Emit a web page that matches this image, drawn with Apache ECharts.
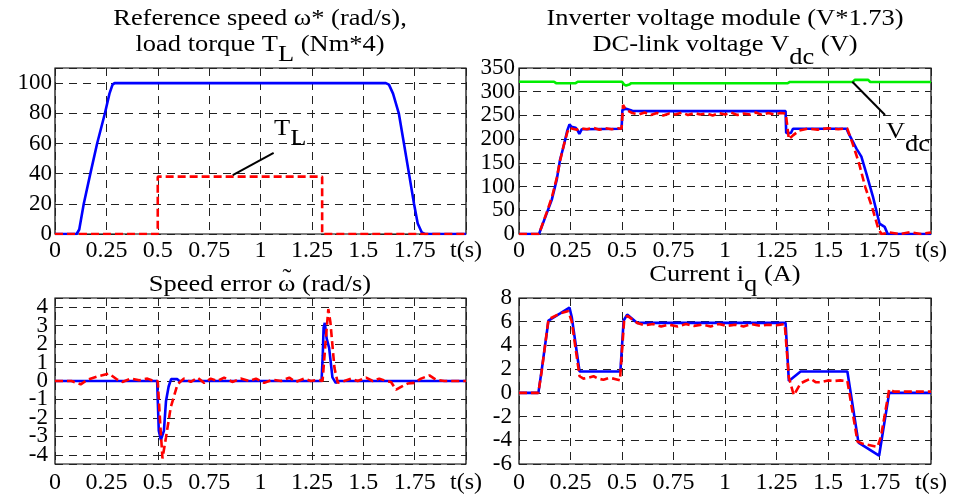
<!DOCTYPE html>
<html>
<head>
<meta charset="utf-8">
<script src="https://cdn.jsdelivr.net/npm/echarts@6/dist/echarts.min.js"></script>
<style>
html, body { margin: 0; padding: 0; background: #fff; }
#chart { width: 963px; height: 498px; }
</style>
</head>
<body>
<div id="chart"></div>
<script>
var FONT = 'Liberation Serif';
var SX = 1.15; // the original lettering is a bit wider than Times

// x ticks (s)
var timeTicks = [0, 0.25, 0.5, 0.75, 1, 1.25, 1.5, 1.75, 2];

// --- top left: reference speed and load torque
var refT = [0, 0.105, 0.118, 0.14, 0.172, 0.205, 0.243, 0.265, 0.28, 0.29, 1.61, 1.625, 1.645, 1.673, 1.698, 1.725, 1.747, 1.765, 1.785, 1.8, 2];
var refV = [0, 0, 3, 20, 40, 60, 80, 93, 99, 100, 100, 99, 93, 80, 60, 38, 20, 7, 1, 0, 0];
var loadT = [0, 0.5, 0.5, 1.3, 1.3, 2];
var loadV = [0, 0, 38, 38, 0, 0];
var tlPointer = [[0.865, 39], [1.064, 53.7]];

// --- top right: inverter voltage module and dc-link voltage
var vdcT = [0, 0.17, 0.18, 0.275, 0.285, 0.5, 0.51, 0.52, 0.535, 0.545, 1.305, 1.315, 1.62, 1.63, 1.695, 1.705, 2];
var vdcV = [321, 321, 318, 318, 321, 321, 315, 313, 315, 318, 318, 320.5, 320.5, 325, 325, 320.5, 320.5];
var vmodT = [0, 0.097, 0.134, 0.159, 0.183, 0.199, 0.216, 0.235, 0.245, 0.255, 0.275, 0.285, 0.293, 0.305, 0.498, 0.502, 0.52, 0.55, 0.6, 1.294,
  1.297, 1.32, 1.33, 1.59, 1.6, 1.638, 1.662, 1.686, 1.718, 1.75, 1.775, 1.79, 2];
var vmodV = [0, 0, 43, 72, 114, 156, 184, 219, 231, 226, 224, 218, 211, 221, 222, 262, 264, 260, 259, 259,
  213, 213, 222, 222, 212, 180, 163, 128, 79, 22, 15, 0, 0];
var vestT = [0, 0.097, 0.134, 0.16, 0.183, 0.2, 0.216, 0.235, 0.245, 0.26, 0.28, 0.3, 0.33, 0.36, 0.39, 0.42, 0.45, 0.48, 0.498, 0.505,
  0.52, 0.55, 0.58, 0.61, 0.64, 0.67, 0.7, 0.73, 0.76, 0.79, 0.82, 0.85, 0.88, 0.91, 0.94, 0.97, 1.0, 1.03, 1.06, 1.09,
  1.12, 1.15, 1.18, 1.21, 1.24, 1.27, 1.295, 1.31, 1.33, 1.36, 1.4, 1.45, 1.5, 1.55, 1.593, 1.62, 1.65, 1.68, 1.715, 1.745,
  1.76, 1.8, 1.85, 1.9, 1.95, 2];
var vestV = [0, 0, 45, 78, 118, 155, 185, 215, 224, 222, 220, 223, 221, 224, 220, 223, 221, 223, 222, 272,
  262, 255, 252, 256, 251, 255, 250, 254, 252, 256, 251, 255, 252, 254, 250, 255, 252, 256, 251, 254,
  252, 256, 251, 255, 252, 255, 254, 200, 208, 218, 222, 220, 223, 221, 223, 190, 150, 100, 55, 10,
  0, 3, 0, 4, 0, 3];
var vdcPointer = [[1.618, 321], [1.777, 251]];

// --- bottom left: speed error
var errBlueT = [0, 0.497, 0.505, 0.515, 0.53, 0.54, 0.553, 0.565, 0.575, 0.595, 0.605, 1.297, 1.303, 1.307, 1.313, 1.322, 1.334, 1.35, 1.366, 1.38, 2];
var errBlueV = [0, 0, -2.7, -3.2, -2.7, -1.1, -0.3, 0.1, 0.1, 0.1, 0, 0, 1.4, 2.9, 3.15, 2.3, 1.8, 0.2, -0.1, 0, 0];
var errRedT = [0, 0.08, 0.125, 0.158, 0.206, 0.263, 0.304, 0.328, 0.369, 0.41, 0.45, 0.482, 0.5, 0.512, 0.523, 0.54, 0.563, 0.596, 0.628, 0.661,
  0.693, 0.726, 0.758, 0.79, 0.823, 0.863, 0.904, 0.945, 0.978, 1.018, 1.059, 1.1, 1.14, 1.172, 1.213, 1.245, 1.278, 1.302, 1.318, 1.33,
  1.34, 1.36, 1.376, 1.408, 1.44, 1.473, 1.514, 1.546, 1.578, 1.611, 1.635, 1.66, 1.684, 1.716, 1.749, 1.781, 1.822, 1.854, 1.895, 2];
var errRedV = [0, 0, -0.18, 0.07, 0.25, 0.4, 0.07, -0.05, 0.13, 0.04, 0.13, 0, 0, -2.3, -4.2, -3.06, -1.44, -0.18, 0.13, -0.05,
  0.18, -0.1, 0.13, 0, 0.18, -0.05, 0.13, 0, 0.13, -0.1, 0.07, 0, 0.18, -0.05, 0.13, 0, 0.07, 0, 2.3, 3.9,
  3.2, 0.7, -0.1, 0, 0.13, 0, 0.18, 0, 0.13, 0, -0.05, -0.47, -0.32, -0.14, -0.1, 0.13, 0.3, 0.07, 0, 0];

// --- bottom right: current iq
var iqBlueT = [0, 0.094, 0.11, 0.143, 0.2, 0.245, 0.256, 0.294, 0.492, 0.508, 0.525, 0.574, 1.294, 1.31, 1.367, 1.594, 1.648, 1.748, 1.797, 2];
var iqBlueV = [0, 0, 1.9, 6.1, 6.7, 7.2, 6.4, 1.8, 1.8, 6.1, 6.6, 5.9, 5.9, 1.0, 1.8, 1.8, -4.2, -5.3, 0, 0];
var iqRedT = [0, 0.094, 0.11, 0.143, 0.2, 0.24, 0.256, 0.294, 0.313, 0.34, 0.362, 0.385, 0.41, 0.435, 0.46, 0.49, 0.51, 0.525, 0.574, 0.61,
  0.65, 0.69, 0.73, 0.77, 0.81, 0.85, 0.89, 0.93, 0.97, 1.01, 1.05, 1.09, 1.13, 1.17, 1.21, 1.25, 1.29, 1.31, 1.334, 1.367,
  1.39, 1.415, 1.44, 1.464, 1.5, 1.53, 1.56, 1.594, 1.643, 1.67, 1.74, 1.757, 1.797, 1.82, 2];
var iqRedV = [0, 0, 1.8, 6.2, 6.7, 6.9, 6.0, 1.4, 1.2, 1.3, 1.4, 1.2, 1.1, 1.25, 1.2, 1.05, 6.0, 6.5, 5.9, 5.7,
  5.8, 5.6, 5.75, 5.6, 5.8, 5.65, 5.75, 5.6, 5.8, 5.65, 5.75, 5.6, 5.8, 5.65, 5.75, 5.7, 5.8, 1.3, -0.2, 0.8,
  1.0, 1.2, 0.9, 0.9, 1.05, 1.0, 1.05, 1.0, -4.1, -4.3, -4.55, -3.7, 0.3, 0.1, 0.1];

function zip(t, v) {
  return t.map(function (x, i) { return [x, v[i]]; });
}

var gridLine = { show: true, lineStyle: { color: '#222', width: 1, type: [8, 6] } };

function xAx(g, margin) {
  return {
    type: 'value', gridIndex: g, min: 0, max: 2, interval: 0.25,
    axisLine: { show: false }, axisTick: { show: false },
    splitLine: gridLine,
    axisLabel: {
      color: '#000', fontFamily: FONT, fontSize: 24, margin: margin, hideOverlap: false,
      showMinLabel: true, showMaxLabel: true,
      formatter: function (v) { return v === 2 ? 't(s)' : String(v); }
    }
  };
}

function yAx(g, min, max, opt, margin, fmt) {
  var a = {
    type: 'value', gridIndex: g, min: min, max: max,
    axisLine: { show: false }, axisTick: { show: false },
    splitLine: gridLine,
    axisLabel: {
      color: '#000', fontFamily: FONT, fontSize: 23, lineHeight: 16, margin: margin, hideOverlap: false,
      showMinLabel: true, showMaxLabel: true,
      formatter: fmt || function (v) { return String(v); }
    }
  };
  for (var k in opt) a[k] = opt[k];
  return a;
}

function blue(g, data) {
  return { type: 'line', xAxisIndex: g, yAxisIndex: g, data: data, showSymbol: false, z: 3,
    lineStyle: { color: '#0000ff', width: 2.6 } };
}
function red(g, data) {
  return { type: 'line', xAxisIndex: g, yAxisIndex: g, data: data, showSymbol: false, z: 4,
    lineStyle: { color: '#ff0000', width: 2.6, type: [8, 4] } };
}
function pointer(g, data) {
  return { type: 'line', xAxisIndex: g, yAxisIndex: g, data: data, showSymbol: false, z: 5,
    lineStyle: { color: '#000', width: 2 } };
}

var rich = {
  m: { fontFamily: FONT, fontSize: 23, lineHeight: 26, fill: '#000', verticalAlign: 'top' },
  s: { fontFamily: FONT, fontSize: 23, lineHeight: 26, fill: '#000', verticalAlign: 'top', padding: [10, 0, 0, 0] },
  s2: { fontFamily: FONT, fontSize: 23, lineHeight: 26, fill: '#000', verticalAlign: 'top', padding: [13, 0, 0, 0] }
};

function label(x, y, text, align) {
  return { type: 'text', x: x, y: y, z: 10, scaleX: SX,
    style: { text: text, rich: rich, fontFamily: FONT, fontSize: 23, fill: '#000', align: align || 'center', verticalAlign: 'top' } };
}

// where the tilde goes over the omega of the speed error title
var ctx = document.createElement('canvas').getContext('2d');
ctx.font = '23px "' + FONT + '"';
var errPre = 'Speed error ', errTitle = 'Speed error ω (rad/s)';
var tildeX = 260 + (ctx.measureText(errPre).width + ctx.measureText('ω').width / 2 - ctx.measureText(errTitle).width / 2) * SX;

var chart = echarts.init(document.getElementById('chart'));
var option = {
  animation: false,
  backgroundColor: '#fff',
  grid: [
    { left: 55, top: 68, width: 411, height: 166, show: true, borderColor: '#000', borderWidth: 1.2, backgroundColor: 'transparent' },
    { left: 519, top: 68, width: 412, height: 166, show: true, borderColor: '#000', borderWidth: 1.2, backgroundColor: 'transparent' },
    { left: 55, top: 298, width: 411, height: 166, show: true, borderColor: '#000', borderWidth: 1.2, backgroundColor: 'transparent' },
    { left: 519, top: 298, width: 412, height: 166, show: true, borderColor: '#000', borderWidth: 1.2, backgroundColor: 'transparent' }
  ],
  xAxis: [xAx(0, 5), xAx(1, 5), xAx(2, 7), xAx(3, 7)],
  yAxis: [
    yAx(0, 0, 110, { interval: 20 }, 3, function (v) { return v > 100 ? '' : String(v); }),
    yAx(1, 0, 350, { interval: 50 }, 4),
    yAx(2, -4.5, 4.5, { splitNumber: 9 }, 7, function (v) { return Number.isInteger(v) ? String(v) : ''; }),
    yAx(3, -6, 8, { interval: 2 }, 7)
  ],
  series: [
    blue(0, zip(refT, refV)),
    red(0, zip(loadT, loadV)),
    pointer(0, tlPointer),
    { type: 'line', xAxisIndex: 1, yAxisIndex: 1, data: zip(vdcT, vdcV), showSymbol: false, z: 3,
      lineStyle: { color: '#00ee00', width: 2.6 } },
    blue(1, zip(vmodT, vmodV)),
    red(1, zip(vestT, vestV)),
    pointer(1, vdcPointer),
    blue(2, zip(errBlueT, errBlueV)),
    red(2, zip(errRedT, errRedV)),
    blue(3, zip(iqBlueT, iqBlueV)),
    red(3, zip(iqRedT, iqRedV))
  ],
  graphic: [
    label(260, 7, '{m|Reference speed ω* (rad/s),}\n{m|load torque T}{s|L}{m| (Nm*4)}'),
    label(725, 7, '{m|Inverter voltage module (V*1.73)}\n{m|DC-link voltage V}{s2|dc}{m| (V)}'),
    label(260, 273, '{m|' + errTitle + '}'),
    label(tildeX, 267, '{m|˜}'),
    label(725, 263, '{m|Current i}{s|q}{m| (A)}'),
    label(274, 117, '{m|T}{s|L}', 'left'),
    label(886, 120, '{m|V}{s2|dc}', 'left')
  ]
};
chart.setOption(option);
</script>
</body>
</html>
